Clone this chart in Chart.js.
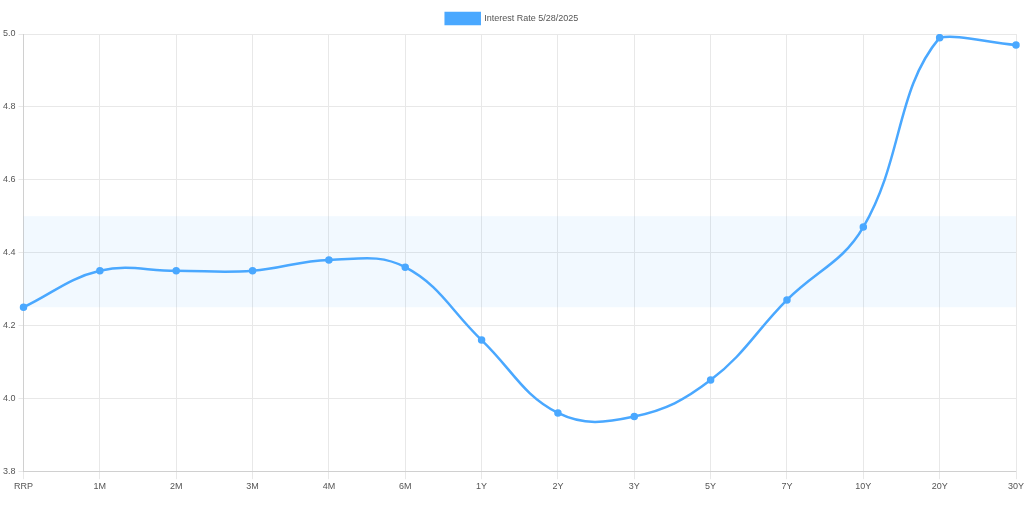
<html>
<head>
<style>
  body { margin: 0; background: #fff; }
  #wrap { width: 1024px; height: 525px; }
</style>
</head>
<body>
<div id="wrap"><canvas id="rate-chart"></canvas></div>
<script src="https://cdn.jsdelivr.net/npm/chart.js"></script>
<script>
var labels = ['RRP','1M','2M','3M','4M','6M','1Y','2Y','3Y','5Y','7Y','10Y','20Y','30Y'];
var rates = [4.25, 4.35, 4.35, 4.35, 4.38, 4.36, 4.16, 3.96, 3.95, 4.05, 4.27, 4.47, 4.99, 4.97];
var fedLow = 4.25, fedHigh = 4.5;
var yTicks = [3.8, 4.0, 4.2, 4.4, 4.6, 4.8, 5.0];

// light band for the fed funds range
var bandPlugin = {
  id: 'band',
  beforeDatasetsDraw: function(chart) {
    var ctx = chart.ctx, area = chart.chartArea, y = chart.scales.y;
    var top = y.getPixelForValue(fedHigh), bot = y.getPixelForValue(fedLow);
    ctx.save();
    ctx.fillStyle = 'rgba(74,168,255,0.07)';
    ctx.fillRect(area.left, top, area.right - area.left, bot - top);
    ctx.restore();
  }
};

Chart.defaults.font.family = 'Arial, "Liberation Sans", sans-serif';
Chart.defaults.font.size = 9;
Chart.defaults.color = '#666';

new Chart(document.getElementById('rate-chart'), {
  type: 'line',
  data: {
    labels: labels,
    datasets: [{
      label: 'Interest Rate 5/28/2025',
      data: rates,
      borderColor: '#4aa8ff',
      backgroundColor: '#4aa8ff',
      borderWidth: 2.5,
      pointRadius: 2.5,
      pointBackgroundColor: '#4aa8ff',
      tension: 0.4
    }]
  },
  options: {
    responsive: true,
    maintainAspectRatio: false,
    animation: false,
    layout: { padding: { left: 0, right: 0, top: 6, bottom: 31 } },
    plugins: {
      legend: {
        labels: { boxWidth: 34, boxHeight: 11, padding: 7, color: '#555' }
      },
      tooltip: { enabled: false }
    },
    scales: {
      x: {
        grid: { color: '#e8e8e8' },
        ticks: { color: '#555', maxRotation: 0, padding: 2 },
        afterFit: function(axis) { axis.paddingRight = 8; }
      },
      y: {
        min: 3.8,
        max: 5.0,
        afterBuildTicks: function(axis) {
          axis.ticks = yTicks.map(function(v) { return { value: v }; });
        },
        grid: { color: '#e8e8e8', tickLength: 5 },
        ticks: {
          color: '#555',
          padding: 3,
          callback: function(v) { return v.toFixed(1); }
        }
      }
    }
  },
  plugins: [bandPlugin]
});
</script>
</body>
</html>
